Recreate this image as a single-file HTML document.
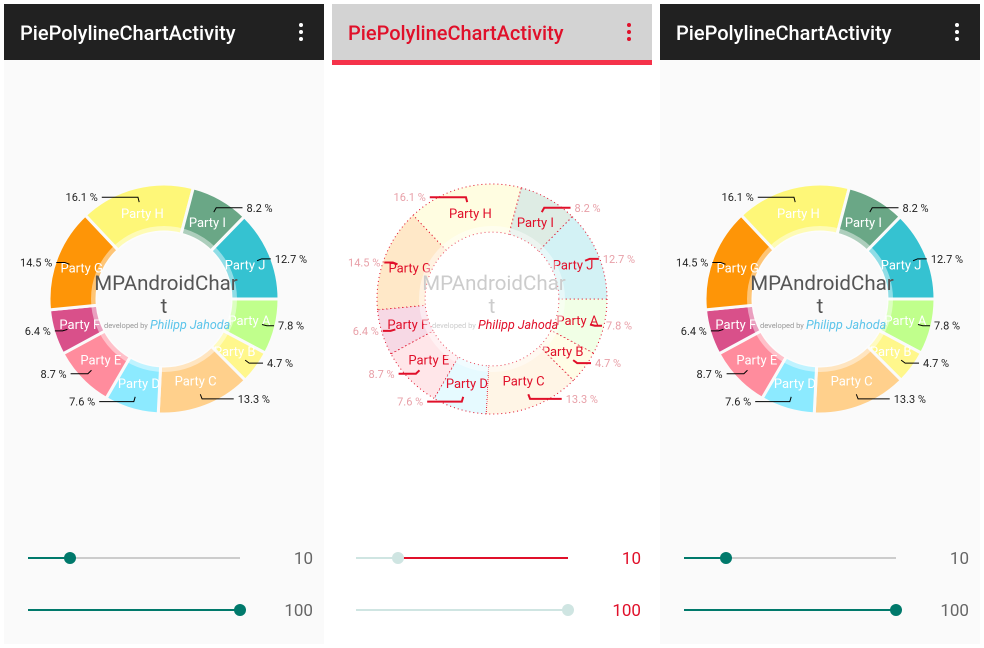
<!DOCTYPE html>
<html><head><meta charset="utf-8">
<style>
html,body{margin:0;padding:0;background:#fff;width:984px;height:648px;overflow:hidden}
svg{display:block;font-family:"Roboto","Liberation Sans",sans-serif}
</style></head>
<body>
<svg id="root" width="984" height="648" viewBox="0 0 984 648"></svg>
<script>
const categories = ["Party A","Party B","Party C","Party D","Party E","Party F","Party G","Party H","Party I","Party J"];
const values = [7.8,4.7,13.3,7.6,8.7,6.4,14.5,16.1,8.2,12.7];
const valueLabels = ["7.8 %","4.7 %","13.3 %","7.6 %","8.7 %","6.4 %","14.5 %","16.1 %","8.2 %","12.7 %"];
const colors = ["#c0ff8c","#fff78c","#ffd08c","#8ceaff","#ff8c9d","#d9508a","#fe9507","#fef778","#6aa786","#35c2d1"];
const sliderValues = [10,100];
const sliderMax = 100;

const NS="http://www.w3.org/2000/svg";
const root=document.getElementById('root');
function mk(tag,attrs,parent){const e=document.createElementNS(NS,tag);for(const k in attrs)e.setAttribute(k,attrs[k]);(parent||root).appendChild(e);return e;}
function pale(hex){const n=parseInt(hex.slice(1),16);const r=n>>16,g=(n>>8)&255,b=n&255;const f=c=>Math.round(c*0.22+255*0.78);return `rgb(${f(r)},${f(g)},${f(b)})`;}

function panel(ox, diff){
  const g=mk('g',{transform:`translate(${ox},0)`});
  
  
  const bg=mk('rect',{x:4,y:4,width:320,height:640,fill:diff?'#fff':'#fafafa'},g);
  
  
  const hb=mk('rect',{x:4,y:4,width:320,height:56,fill:diff?'#d3d3d3':'#212121'},g);
  
  
  if(diff){const rb=mk('rect',{x:4,y:60,width:320,height:5,fill:'#f5324a'},g);
    
    }
  const t=mk('text',{x:20,y:40,fill:diff?'#e0102a':'#fff','font-size':20,'font-weight':'500'},g);
  t.textContent='PiePolylineChartActivity';
  
  
  const menu=mk('g',{},g);
  
  
  for(let i=0;i<3;i++)mk('circle',{cx:301,cy:25+i*7,r:2,fill:diff?'#e0102a':'#fff'},menu);

  const cx=164,cy=299,R=115,ri=67;
  const chart=mk('g',{},g);
  
  
  const total=values.reduce((a,b)=>a+b,0);
  let acc=0;
  const red='#e0102a';
  values.forEach((v,i)=>{
    const a0=acc/total*2*Math.PI, a1=(acc+v)/total*2*Math.PI; acc+=v;
    const large=(a1-a0)>Math.PI?1:0;
    const p=(r,a)=>[cx+r*Math.cos(a),cy+r*Math.sin(a)];
    const [x0,y0]=p(R,a0),[x1,y1]=p(R,a1),[x2,y2]=p(ri,a1),[x3,y3]=p(ri,a0);
    const s=mk('path',{d:`M${x0},${y0}A${R},${R} 0 ${large} 1 ${x1},${y1}L${x2},${y2}A${ri},${ri} 0 ${large} 0 ${x3},${y3}Z`,
      fill:diff?pale(colors[i]):colors[i],stroke:diff?red:'#fafafa','stroke-width':diff?1:3,'stroke-dasharray':diff?'1 3':'none'},chart);
    
    
    const am=(a0+a1)/2, c=Math.cos(am);
    const [lx,ly]=p(88,am);
    const lt=mk('text',{x:lx,y:ly+4.5,'text-anchor':'middle',fill:diff?red:'#fff','font-size':13},chart);
    lt.textContent=categories[i];
    
    
    const [q1x,q1y]=p(101,am),[q2x,q2y]=p(106,am);
    const dir=c>=0?1:-1, len=40*(1-Math.abs(c))+6;
    const q3x=q2x+dir*len;
    const pl=mk('polyline',{points:`${q1x},${q1y+1} ${q2x},${q2y+1} ${q3x},${q2y+1}`,fill:'none',stroke:diff?red:'#000','stroke-width':diff?2:1},chart);
    
    
    const vt=mk('text',{x:q3x+dir*4,y:q2y+5,'text-anchor':dir>0?'start':'end',fill:diff?'#e8a0a8':'#222','font-size':11},chart);
    vt.textContent=valueLabels[i];
    
    
  });
  const tc=mk('circle',{cx:cx,cy:cy,r:ri+3,fill:'none',stroke:'#fff','stroke-opacity':0.45,'stroke-width':6},chart);
  
  
  const cg=mk('g',{},chart);
  
  
  const c1=mk('text',{x:cx+2,y:290,'text-anchor':'middle',fill:diff?'#ccc':'#555','font-size':20.5},cg);c1.textContent='MPAndroidChar';
  const c2=mk('text',{x:cx,y:313,'text-anchor':'middle',fill:diff?'#ccc':'#555','font-size':20.5},cg);c2.textContent='t';
  const c3=mk('text',{x:104,y:328,fill:diff?'#ccc':'#999','font-size':7.5},cg);c3.textContent='developed by';
  const c4=mk('text',{x:150,y:329,fill:diff?red:'#5bc4ea','font-size':12.5,'font-style':'italic'},cg);c4.textContent='Philipp Jahoda';

  sliderValues.forEach((v,i)=>{
    const y=i?610:558, x0=28,x1=240;
    const sg=mk('g',{},g);
    
    
    const tealC=diff?'#cfe5e2':'#00796b';
    const pos=x0+(x1-x0)*(v/sliderMax);
    const px=i===0?70:pos;
    mk('line',{x1:x0,y1:y,x2:px,y2:y,stroke:tealC,'stroke-width':2},sg);
    mk('line',{x1:px,y1:y,x2:x1,y2:y,stroke:diff?(i?'#cfe5e2':red):'#ccc','stroke-width':2},sg);
    mk('circle',{cx:px,cy:y,r:6,fill:tealC},sg);
    const vt=mk('text',{x:313,y:y+6,'text-anchor':'end',fill:diff?red:'#666','font-size':17},g);
    vt.textContent=String(v);
    
    
  });
}
panel(0,false);
panel(328,true);
panel(656,false);
</script>
</body></html>
